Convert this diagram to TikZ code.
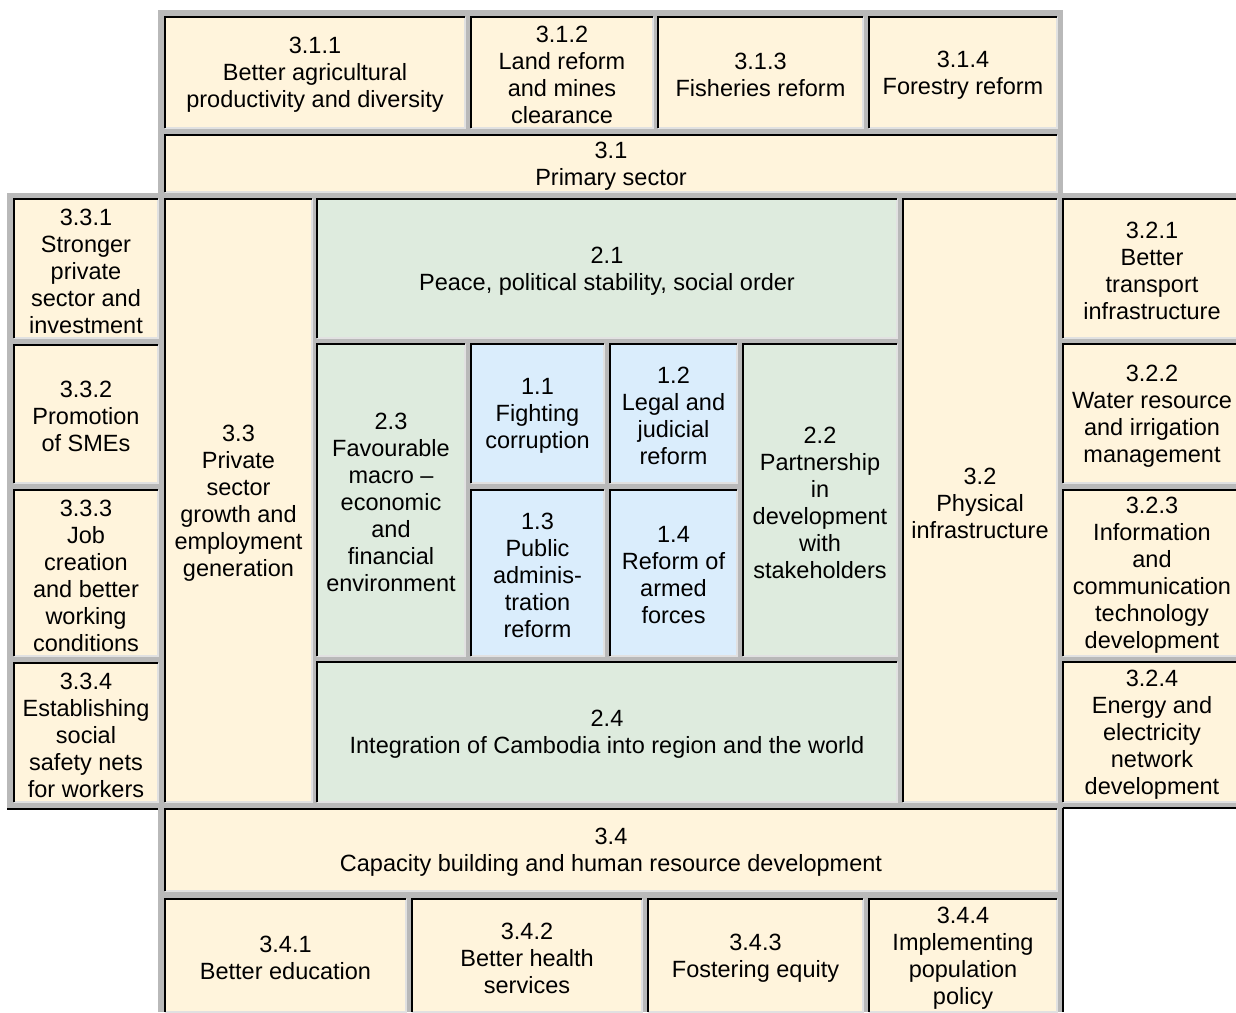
\documentclass[tikz,border=0pt]{standalone}
\usepackage{fontspec}
\setmainfont{Liberation Sans}
\definecolor{cream}{RGB}{255,244,220}
\definecolor{sage}{RGB}{222,235,222}
\definecolor{sky}{RGB}{218,237,252}
\definecolor{gapgrey}{RGB}{185,185,185}
\definecolor{hilite}{RGB}{225,225,225}
\tikzset{
  celltext/.style={inner sep=0pt, align=center, yshift=-2.5pt, font=\fontsize{23.5}{27}\selectfont},
  darkedge/.style={black, line width=1.6pt},
  lightedge/.style={hilite, line width=1.2pt},
}
% \mycell{name}{x1}{y1}{x2}{y2}{fill}{text}
\newcommand\mycell[7]{%
  \fill[#6] (#2,#3) rectangle (#4,#5);
  \draw[lightedge] (#2,#5) -- (#4,#5) -- (#4,#3);
  \draw[darkedge] (#2,#5) -- (#2,#3) -- (#4,#3);
  \node[celltext] (#1) at ({(#2+#4)/2},{(#3+#5)/2}) {#7};
}
\begin{document}
\begin{tikzpicture}[x=1pt,y=-1pt]
\useasboundingbox (0,0) rectangle (1236,1012);
\clip (0,0) rectangle (1236,1012);
% grey frames
\fill[gapgrey] (158,10) rectangle (1063,200);
\fill[gapgrey] (7,193) rectangle (1250,809);
\fill[gapgrey] (158,802) rectangle (1063,1012);
% outset dark edges of the outer tables
\draw[darkedge] (7,809) -- (158,809);
\draw[darkedge] (1063,808) -- (1250,808);
\draw[darkedge] (1063,808) -- (1063,1012);
% top row
\mycell{c311}{165}{17}{465}{128}{cream}{3.1.1\\Better agricultural\\productivity and diversity}
\mycell{c312}{471}{17}{653}{128}{cream}{3.1.2\\Land reform\\and mines\\clearance}
\mycell{c313}{658}{17}{863}{128}{cream}{3.1.3\\Fisheries reform}
\mycell{c314}{869}{17}{1057}{128}{cream}{3.1.4\\Forestry reform}
\mycell{c31}{165}{135}{1057}{192}{cream}{3.1\\Primary sector}
% left column
\mycell{c331}{14}{199}{158}{338}{cream}{3.3.1\\Stronger\\private\\sector and\\investment}
\mycell{c332}{14}{345}{158}{483}{cream}{3.3.2\\Promotion\\of SMEs}
\mycell{c333}{14}{490}{158}{656}{cream}{3.3.3\\Job\\creation\\and better\\working\\conditions}
\mycell{c334}{14}{663}{158}{802}{cream}{3.3.4\\Establishing\\social\\safety nets\\for workers}
\mycell{c33}{165}{199}{312}{802}{cream}{3.3\\Private\\sector\\growth and\\employment\\generation}
% core
\mycell{c21}{317}{199}{897}{338}{sage}{2.1\\Peace, political stability, social order}
\mycell{c23}{317}{344}{465}{656}{sage}{2.3\\Favourable\\macro –\\economic\\and\\financial\\environment}
\mycell{c11}{471}{344}{604}{483}{sky}{1.1\\Fighting\\corruption}
\mycell{c12}{610}{344}{737}{483}{sky}{1.2\\Legal and\\judicial\\reform}
\mycell{c13}{471}{490}{604}{656}{sky}{1.3\\Public\\adminis-\\tration\\reform}
\mycell{c14}{610}{490}{737}{656}{sky}{1.4\\Reform of\\armed\\forces}
\mycell{c22}{743}{344}{897}{656}{sage}{2.2\\Partnership\\in\\development\\with\\stakeholders}
\mycell{c24}{317}{662}{897}{802}{sage}{2.4\\Integration of Cambodia into region and the world}
% right column
\mycell{c32}{903}{199}{1057}{802}{cream}{3.2\\Physical\\infrastructure}
\mycell{c321}{1063}{199}{1241}{338}{cream}{3.2.1\\Better\\transport\\infrastructure}
\mycell{c322}{1063}{344}{1241}{483}{cream}{3.2.2\\Water resource\\and irrigation\\management}
\mycell{c323}{1063}{490}{1241}{656}{cream}{3.2.3\\Information\\and\\communication\\technology\\development}
\mycell{c324}{1063}{662}{1241}{802}{cream}{3.2.4\\Energy and\\electricity\\network\\development}
% bottom
\mycell{c34}{165}{809}{1057}{891}{cream}{3.4\\Capacity building and human resource development}
\mycell{c341}{165}{899}{406}{1012}{cream}{3.4.1\\Better education}
\mycell{c342}{412}{899}{642}{1012}{cream}{3.4.2\\Better health\\services}
\mycell{c343}{648}{899}{863}{1012}{cream}{3.4.3\\Fostering equity}
\mycell{c344}{869}{899}{1057}{1012}{cream}{3.4.4\\Implementing\\population\\policy}
\end{tikzpicture}
\end{document}
